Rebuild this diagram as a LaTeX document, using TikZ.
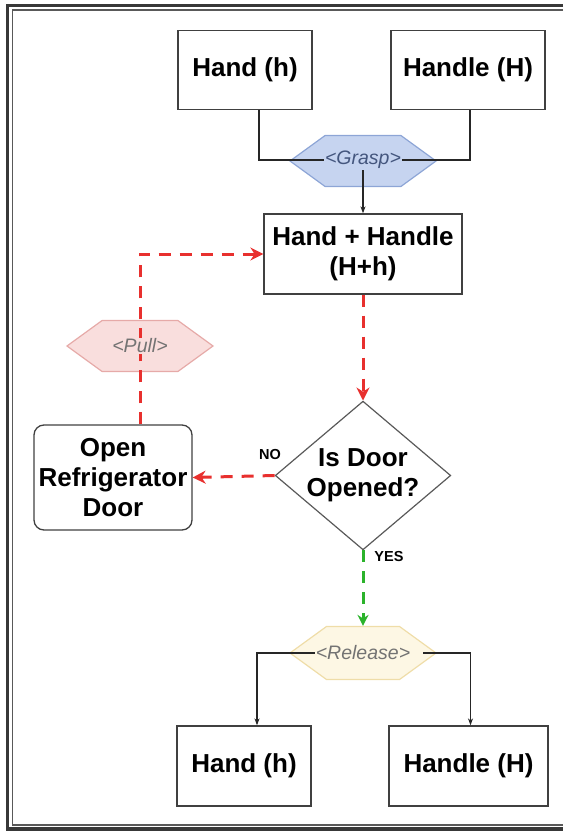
\documentclass[tikz,border=0pt]{standalone}
\usepackage{fontspec}
\setmainfont{Liberation Sans}
\usetikzlibrary{shapes.geometric,shapes.symbols,arrows.meta}

\definecolor{flowred}{HTML}{E8302E}
\definecolor{flowgreen}{HTML}{2BB32B}
\definecolor{graspfill}{HTML}{C6D4F0}
\definecolor{graspline}{HTML}{8DA5D6}
\definecolor{grasptext}{HTML}{44567E}
\definecolor{pullfill}{HTML}{F9DEDD}
\definecolor{pullline}{HTML}{E6AAA8}
\definecolor{relfill}{HTML}{FDF7E4}
\definecolor{relline}{HTML}{EFDDA8}

\begin{document}
\begin{tikzpicture}[x=1pt, y=-1pt,
    box/.style={draw=black!75, line width=1.3pt, minimum width=#1,
      minimum height=79pt, inner sep=0pt, align=center,
      font=\fontsize{26}{30}\selectfont\bfseries},
    hexa/.style={signal, signal to=west and east, signal pointer angle=72,
      minimum width=146pt, minimum height=51pt, inner sep=0pt, line width=1.2pt},
    hexlabel/.style={inner sep=1pt, font=\fontsize{19.5}{22}\selectfont\itshape},
    tag/.style={font=\fontsize{14.5}{16}\selectfont\bfseries},
    link/.style={line width=1.1pt, draw=black!85},
    flow/.style={line width=3pt, dash pattern=on 12pt off 9pt},
  ]
  \useasboundingbox (0,0) rectangle (563,832);
  % frame
  \draw[line width=3.2pt, black!78] (563,5.5) -- (7.5,5.5) -- (7.5,829) -- (563,829);
  \draw[line width=1.6pt, black!65] (563,10) -- (12.5,10) -- (12.5,825) -- (563,825);

  % boxes
  \node[box=134] (handA) at (245,70) {Hand (h)};
  \node[box=154] (handleA) at (468,70) {Handle (H)};
  \node[hexa, fill=graspfill, draw=graspline] (grasp) at (363,161) {};
  \node[hexlabel, fill=graspfill, text=grasptext] (grasptxt) at (363,160) {<Grasp>};
  \node[box=198, minimum height=80pt] (joined) at (363,254) {Hand + Handle\\(H+h)};
  \node[diamond, draw=black!65, line width=1.2pt, aspect=1.18,
    minimum width=171pt, minimum height=145pt, inner sep=0pt, align=center,
    font=\fontsize{26}{30}\selectfont\bfseries] (opened) at (363,475.5) {Is Door\\Opened?};
  \node[box=158, minimum height=105pt, rounded corners=10pt] (fridge) at (113,477.5)
    {Open\\Refrigerator\\Door};
  \node[hexa, fill=pullfill, draw=pullline] (pull) at (140,346) {};
  \node[hexa, fill=relfill, draw=relline, minimum height=53pt] (release) at (363,653) {};
  \node[hexlabel, fill=relfill, text=black!55] (reltxt) at (363,653) {<Release>};
  \node[box=134, minimum height=80pt] (handB) at (244,766) {Hand (h)};
  \node[box=159, minimum height=80pt] (handleB) at (468.5,766) {Handle (H)};
  \node[tag] (no) at (270,455) {NO};
  \node[tag] (yes) at (389,557) {YES};

  % connectors
  \draw[link] ([xshift=14pt]handA.south) |- (grasptxt.west);
  \draw[link] ([xshift=2pt]handleA.south) |- (grasptxt.east);
  \draw[link, -{Stealth[length=7pt, width=5pt]}] (grasptxt.south) -- (joined.north);
  \draw[flow, flowred, -{Stealth[length=13pt, width=13pt]}] (joined.south) -- (opened.north);
  \draw[flow, flowred, -{Stealth[length=13pt, width=13pt]}] (opened.west) -- (fridge.east);
  \draw[flow, flowred, -{Stealth[length=13pt, width=13pt]}] (fridge.north -| pull) |- (joined.west);
  \node[hexlabel, fill=pullfill, text=black!55] (pulltxt) at (pull) {<Pull>};
  \draw[flow, flowgreen, -{Stealth[length=11pt, width=11pt]}] (opened.south) -- (release.north);
  \draw[link, -{Stealth[length=7pt, width=5pt]}] (reltxt.west) -| ([xshift=13pt]handB.north);
  \draw[link, -{Stealth[length=7pt, width=5pt]}] ([xshift=12pt]reltxt.east) -| ([xshift=2pt]handleB.north);
\end{tikzpicture}
\end{document}
